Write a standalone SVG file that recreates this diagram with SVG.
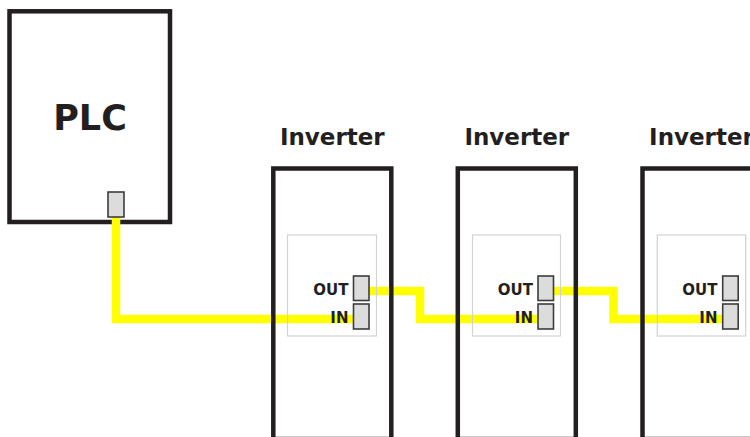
<svg xmlns="http://www.w3.org/2000/svg" width="750" height="437" viewBox="0 0 750 437">
  <style>
    .box { fill: none; stroke: #231f20; stroke-width: 4.5; }
    .panel { fill: none; stroke: #d2d2d2; stroke-width: 1.2; }
    .port { fill: #dcdcdc; stroke: #3c3c3c; stroke-width: 1.6; }
    .wire { fill: none; stroke: #ffff00; stroke-width: 8.5; stroke-linejoin: miter; stroke-linecap: butt; }
    .title { font-family: "DejaVu Sans", Verdana, sans-serif; font-weight: bold; fill: #231f20; }
    .lbl { font-family: "DejaVu Sans", Verdana, sans-serif; font-weight: bold; font-size: 15px; fill: #231f20; text-anchor: end; }
  </style>
  <rect width="750" height="437" fill="#ffffff"/>

  <g id="plc">
    <rect class="box" x="9.5" y="11.3" width="160.5" height="210.7"/>
    <text class="title" x="90" y="130" font-size="35" text-anchor="middle">PLC</text>
  </g>

  <g id="connectors">
    <path class="wire" d="M116,217 V319 H353.5"/>
    <path class="wire" d="M369,291 H420 V319 H538"/>
    <path class="wire" d="M553.5,291 H613.5 V319 H727"/>
  </g>

  <g id="plc-port">
    <rect class="port" x="108" y="192" width="16" height="25"/>
  </g>

  <g id="inverter1">
    <rect class="panel" x="287.5" y="235" width="89" height="101"/>
    <rect class="box" x="273.3" y="168.5" width="118" height="270.5"/>
    <text class="title" x="332.3" y="145" font-size="23" text-anchor="middle">Inverter</text>
    <rect class="port" x="353.5" y="276" width="15.5" height="24.5"/>
    <rect class="port" x="353.5" y="304" width="15.5" height="25"/>
    <text class="lbl" x="348.5" y="294.5">OUT</text>
    <text class="lbl" x="348.5" y="322.5">IN</text>
  </g>

  <g id="inverter2">
    <rect class="panel" x="472.5" y="235" width="88" height="101"/>
    <rect class="box" x="457.8" y="168.5" width="118" height="270.5"/>
    <text class="title" x="516.8" y="145" font-size="23" text-anchor="middle">Inverter</text>
    <rect class="port" x="538" y="276" width="15.5" height="24.5"/>
    <rect class="port" x="538" y="304" width="15.5" height="25"/>
    <text class="lbl" x="533" y="294.5">OUT</text>
    <text class="lbl" x="533" y="322.5">IN</text>
  </g>

  <g id="inverter3">
    <rect class="panel" x="657.3" y="235" width="88.4" height="101"/>
    <rect class="box" x="642.5" y="168.5" width="118" height="270.5"/>
    <text class="title" x="701.5" y="145" font-size="23" text-anchor="middle">Inverter</text>
    <rect class="port" x="722.7" y="276" width="15.5" height="24.5"/>
    <rect class="port" x="722.7" y="304" width="15.5" height="25"/>
    <text class="lbl" x="717.5" y="294.5">OUT</text>
    <text class="lbl" x="717.5" y="322.5">IN</text>
  </g>
</svg>
